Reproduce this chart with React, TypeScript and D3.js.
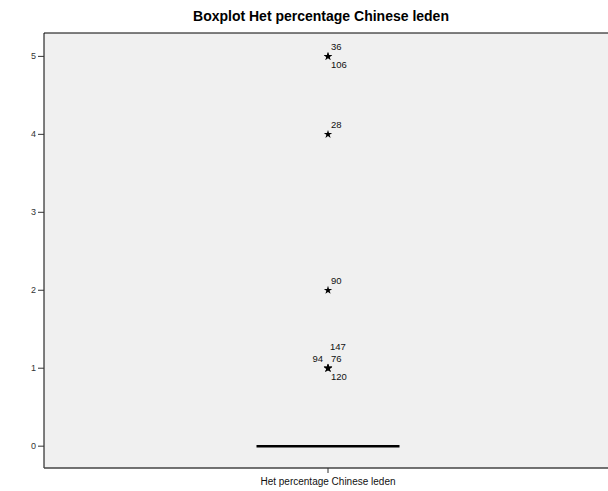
import React from "react";
import * as d3 from "d3";

const title = "Boxplot Het percentage Chinese leden";
const category = "Het percentage Chinese leden";
const yTicks = [0, 1, 2, 3, 4, 5];
// box statistics (all zero: degenerate box)
const boxStats = { q1: 0, median: 0, q3: 0, low: 0, high: 0 };
// extreme values (stars) with case numbers
const outlierCases = [36, 106, 28, 90, 76, 120, 147, 94];
const outlierValues = [5, 5, 4, 2, 1, 1, 1, 1];

const W = 608, H = 491;
const left = 44, top = 33, right = 612, bottom = 468;

// label placements for stacked labels at the same value
const placements = [
  { dx: 3, dy: -6, anchor: "start" },
  { dx: 3, dy: 12, anchor: "start" },
  { dx: 2, dy: -18, anchor: "start" },
  { dx: -5, dy: -6, anchor: "end" },
];

export default function App() {
  const y = d3.scaleLinear().domain([-0.28, 5.3]).range([bottom, top]);
  const x = d3.scaleBand().domain([category]).range([left, right]);
  const cx = (x(category) as number) + x.bandwidth() / 2;
  const boxW = 143;
  const star = d3.symbol().type(d3.symbolStar).size(22)() as string;

  const groupCount: Record<number, number> = {};
  const font = "Arial, 'Liberation Sans', sans-serif";

  return (
    <svg width={W} height={H} style={{ position: "absolute", left: 0, top: 0 }}>
      <rect x={0} y={0} width={W} height={H} fill="#ffffff" />
      <text x={321} y={21} textAnchor="middle" fontFamily={font} fontWeight="bold" fontSize={14} fill="#000">
        {title}
      </text>
      <rect x={left} y={top} width={right - left} height={bottom - top} fill="#f0f0f0" />
      <line x1={left} x2={right} y1={top} y2={top} stroke="#000" strokeWidth={1} />
      <line x1={left} x2={left} y1={top} y2={bottom} stroke="#000" strokeWidth={1} />
      <line x1={left} x2={right} y1={bottom} y2={bottom} stroke="#444" strokeWidth={1.5} />
      {yTicks.map((t) => (
        <g key={t}>
          <line x1={38} x2={left} y1={y(t)} y2={y(t)} stroke="#333" strokeWidth={1} />
          <text x={36} y={y(t) + 3} textAnchor="end" fontFamily={font} fontSize={9} fill="#333">
            {t}
          </text>
        </g>
      ))}
      <line x1={cx} x2={cx} y1={bottom} y2={bottom + 5} stroke="#333" strokeWidth={1} />
      <text x={cx} y={485} textAnchor="middle" fontFamily={font} fontSize={10} fill="#111">
        {category}
      </text>
      {/* degenerate box: median line */}
      <rect x={cx - boxW / 2} y={y(boxStats.q3)} width={boxW} height={y(boxStats.q1) - y(boxStats.q3)} fill="none" stroke="#000" />
      <line x1={cx - boxW / 2} x2={cx + boxW / 2} y1={y(boxStats.median)} y2={y(boxStats.median)} stroke="#000" strokeWidth={2.5} />
      {outlierValues.map((v, i) => {
        const k = groupCount[v] ?? 0;
        groupCount[v] = k + 1;
        const p = placements[k % placements.length];
        return (
          <g key={i}>
            <path d={star} transform={`translate(${cx},${y(v)})`} fill="#000" />
            <text x={cx + p.dx} y={y(v) + p.dy} textAnchor={p.anchor} fontFamily={font} fontSize={9.5} fill="#111">
              {outlierCases[i]}
            </text>
          </g>
        );
      })}
    </svg>
  );
}
